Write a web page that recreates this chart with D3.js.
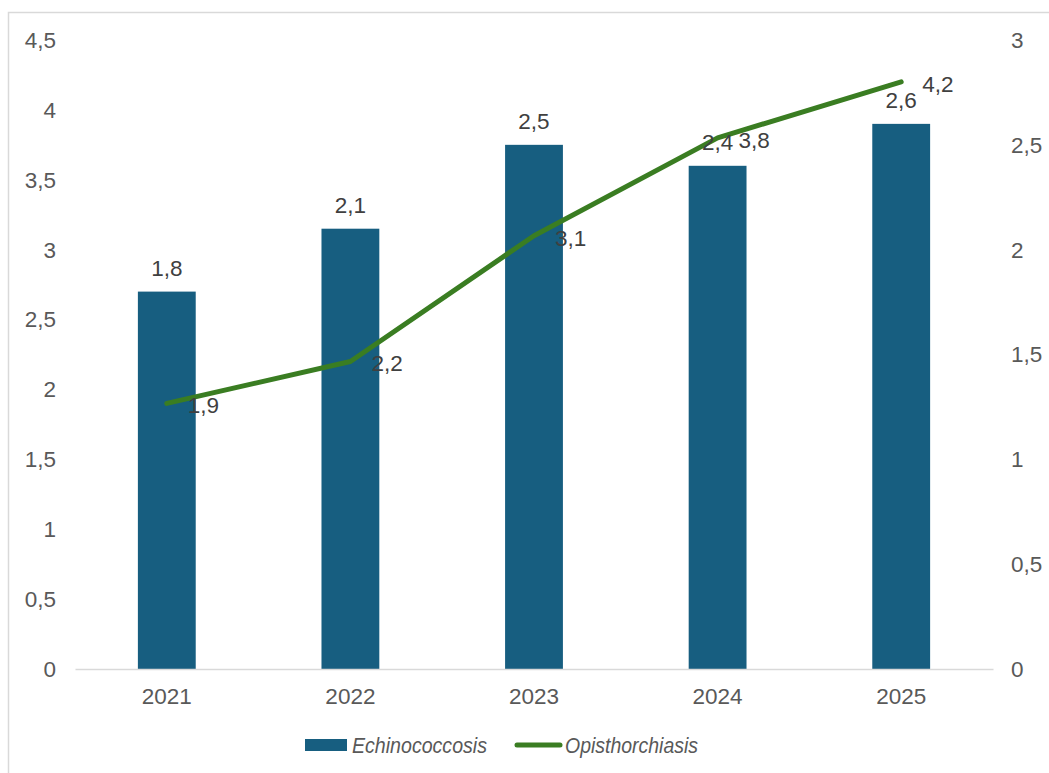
<!DOCTYPE html>
<html lang="en">
<head>
    <meta charset="UTF-8">
    <title>Echinococcosis / Opisthorchiasis</title>
    <style>
        body { margin: 0; background: #fff; }
        #chart { font-family: "Liberation Sans", Arial, sans-serif; }
        .tick-label { fill: #595959; font-size: 22.5px; }
        .data-label { fill: #404040; font-size: 22.5px; }
        .legend-text { fill: #595959; font-size: 22px; font-style: italic; }
    </style>
</head>
<body>
    <div id="chart"></div>
    <script src="https://d3js.org/d3.v7.min.js"></script>
    <script>
const years = ["2021", "2022", "2023", "2024", "2025"];
const echinococcosis = [1.8, 2.1, 2.5, 2.4, 2.6];     // bars, right axis
const opisthorchiasis = [1.9, 2.2, 3.1, 3.8, 4.2];    // line, left axis
const leftTicks = [0, 0.5, 1, 1.5, 2, 2.5, 3, 3.5, 4, 4.5];
const rightTicks = [0, 0.5, 1, 1.5, 2, 2.5, 3];
const seriesNames = ["Echinococcosis", "Opisthorchiasis"];

const W = 1049, H = 773;
const plot = {left: 75, right: 993, top: 40, bottom: 669};

const fmt = d3.formatLocale({decimal: ",", thousands: " ", grouping: [3], currency: ["", ""]}).format("~g");

const svg = d3.select("#chart")
    .append("svg")
    .attr("width", W)
    .attr("height", H);

// outer frame
svg.append("rect")
    .attr("x", 8.5)
    .attr("y", 12.5)
    .attr("width", W + 20)
    .attr("height", H + 20)
    .attr("fill", "none")
    .attr("stroke", "#d9d9d9")
    .attr("stroke-width", 1.5);

const x = d3.scaleBand()
    .domain(years)
    .range([plot.left, plot.right])
    .paddingInner(0.685)
    .paddingOuter(0.3425);

const yLeft = d3.scaleLinear().domain([0, 4.5]).range([plot.bottom, plot.top]);
const yRight = d3.scaleLinear().domain([0, 3]).range([plot.bottom, plot.top]);

// left axis labels
svg.append("g")
    .selectAll("text")
    .data(leftTicks)
    .enter().append("text")
    .attr("class", "tick-label")
    .attr("x", 56)
    .attr("y", d => yLeft(d))
    .attr("dy", "0.35em")
    .attr("text-anchor", "end")
    .text(d => fmt(d));

// right axis labels
svg.append("g")
    .selectAll("text")
    .data(rightTicks)
    .enter().append("text")
    .attr("class", "tick-label")
    .attr("x", 1011)
    .attr("y", d => yRight(d))
    .attr("dy", "0.35em")
    .attr("text-anchor", "start")
    .text(d => fmt(d));

// bars
svg.append("g")
    .selectAll("rect")
    .data(echinococcosis)
    .enter().append("rect")
    .attr("x", (d, i) => x(years[i]))
    .attr("y", d => yRight(d))
    .attr("width", x.bandwidth())
    .attr("height", d => plot.bottom - yRight(d))
    .attr("fill", "#175e80");

// x axis
const xAxis = svg.append("g")
    .attr("transform", "translate(0," + plot.bottom + ")")
    .call(d3.axisBottom(x).tickSize(0).tickPadding(19));
xAxis.select(".domain").attr("stroke", "#d9d9d9").attr("stroke-width", 1.5);
xAxis.selectAll("text")
    .attr("class", "tick-label")
    .attr("font-family", null)
    .attr("font-size", null)
    .attr("fill", null);

// line
const line = d3.line()
    .x((d, i) => x(years[i]) + x.bandwidth() / 2)
    .y(d => yLeft(d));

svg.append("path")
    .datum(opisthorchiasis)
    .attr("d", line)
    .attr("fill", "none")
    .attr("stroke", "#3a7d22")
    .attr("stroke-width", 5)
    .attr("stroke-linecap", "round")
    .attr("stroke-linejoin", "round");

// bar labels
svg.append("g")
    .selectAll("text")
    .data(echinococcosis)
    .enter().append("text")
    .attr("class", "data-label")
    .attr("x", (d, i) => x(years[i]) + x.bandwidth() / 2)
    .attr("y", d => yRight(d) - 15.5)
    .attr("text-anchor", "middle")
    .text(d => fmt(d));

// line labels
svg.append("g")
    .selectAll("text")
    .data(opisthorchiasis)
    .enter().append("text")
    .attr("class", "data-label")
    .attr("x", (d, i) => x(years[i]) + x.bandwidth() / 2 + 21)
    .attr("y", d => yLeft(d) + 2)
    .attr("dy", "0.35em")
    .text(d => fmt(d));

// legend
const legend = svg.append("g");
legend.append("rect")
    .attr("x", 305).attr("y", 739)
    .attr("width", 42).attr("height", 12)
    .attr("fill", "#175e80");
legend.append("text")
    .attr("class", "legend-text")
    .attr("x", 352).attr("y", 745)
    .attr("dy", "0.35em")
    .attr("textLength", 135)
    .attr("lengthAdjust", "spacingAndGlyphs")
    .text(seriesNames[0]);
legend.append("line")
    .attr("x1", 517).attr("x2", 560)
    .attr("y1", 745).attr("y2", 745)
    .attr("stroke", "#3a7d22")
    .attr("stroke-width", 5)
    .attr("stroke-linecap", "round");
legend.append("text")
    .attr("class", "legend-text")
    .attr("x", 565).attr("y", 745)
    .attr("dy", "0.35em")
    .attr("textLength", 133)
    .attr("lengthAdjust", "spacingAndGlyphs")
    .text(seriesNames[1]);
    </script>
</body>
</html>
